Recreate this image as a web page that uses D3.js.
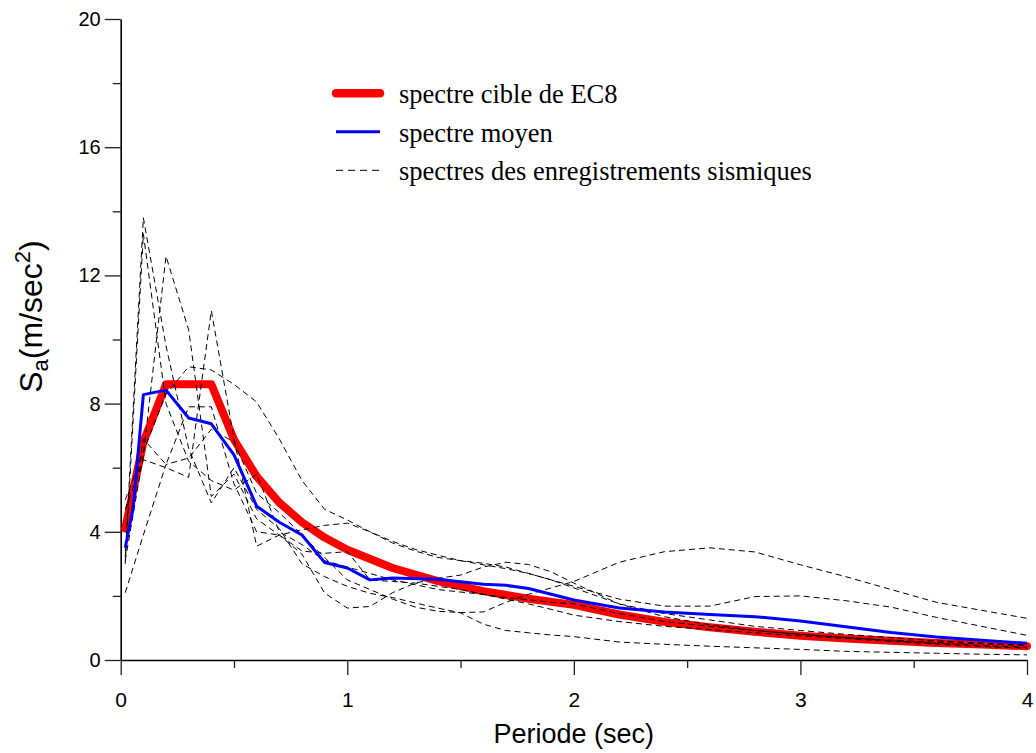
<!DOCTYPE html>
<html>
<head>
<meta charset="utf-8">
<script src="https://cdn.jsdelivr.net/npm/d3@7"></script>
<style>
  html, body { margin: 0; padding: 0; background: #fff; }
  svg { display: block; }
</style>
</head>
<body>
<svg id="chart" width="1036" height="753"></svg>
<script>
// Periods (s) at which the recorded spectra are sampled
const periods = [0.02, 0.1, 0.2, 0.3, 0.4, 0.5, 0.6, 0.7, 0.8, 0.9,
                 1.0, 1.1, 1.2, 1.3, 1.4, 1.5, 1.6, 1.7, 1.8, 1.9,
                 2.0, 2.2, 2.4, 2.6, 2.8, 3.0, 3.2, 3.4, 3.6, 3.8, 4.0];

// Response spectra of the individual seismic records (m/s²)
const record1 = [2.1, 3.9, 6.1, 6.3, 7.2, 6.8, 5.2, 4.6, 3.9, 3.2,
                 2.5, 2.2, 1.9, 1.65, 1.52, 1.48, 1.5, 1.8, 2.05, 2.25,
                 2.45, 3.05, 3.38, 3.5, 3.37, 2.97, 2.6, 2.2, 1.8, 1.55, 1.3];
const record2 = [5.0, 6.5, 8.3, 9.15, 9.05, 8.6, 8.05, 6.9, 5.6, 4.7,
                 4.37, 4.0, 3.7, 3.45, 3.27, 3.1, 2.97, 2.85, 2.7, 2.5,
                 2.3, 1.9, 1.68, 1.68, 1.98, 2.0, 1.85, 1.65, 1.33, 1.05, 0.77];
const record3 = [3.1, 6.4, 12.6, 10.3, 5.1, 5.8, 4.4, 3.9, 3.3, 2.09,
                 1.62, 1.67, 2.1, 2.4, 2.55, 2.65, 2.9, 3.05, 2.98, 2.75,
                 2.4, 1.75, 1.35, 1.1, 0.92, 0.8, 0.7, 0.6, 0.52, 0.45, 0.4];
const record4 = [4.7, 6.25, 6.0, 5.7, 10.9, 6.9, 3.55, 3.9, 4.06, 4.2,
                 4.27, 4.0, 3.65, 3.4, 3.2, 3.1, 3.02, 2.9, 2.7, 2.5,
                 2.25, 1.75, 1.45, 1.25, 1.05, 0.92, 0.8, 0.7, 0.6, 0.53, 0.47];
const record5 = [3.2, 13.8, 9.8, 6.6, 4.9, 6.0, 4.7, 4.1, 3.0, 2.6,
                 2.3, 2.08, 1.95, 1.78, 1.62, 1.47, 1.12, 0.92, 0.85, 0.78,
                 0.73, 0.56, 0.49, 0.43, 0.38, 0.33, 0.27, 0.24, 0.21, 0.18, 0.16];
const record6 = [3.0, 13.3, 8.0, 6.2, 5.6, 5.3, 5.8, 4.0, 3.6, 3.1,
                 2.9, 2.7, 2.5, 2.35, 2.2, 2.12, 2.05, 1.9, 1.75, 1.58,
                 1.4, 1.2, 1.05, 0.95, 0.85, 0.75, 0.67, 0.58, 0.5, 0.42, 0.37];
const record7 = [3.4, 6.9, 6.1, 7.9, 7.9, 5.5, 4.0, 3.9, 3.4, 3.33,
                 3.38, 2.5, 2.45, 2.4, 2.3, 2.2, 2.05, 1.95, 1.88, 1.8,
                 1.75, 1.45, 1.2, 1.05, 0.92, 0.8, 0.7, 0.62, 0.55, 0.5, 0.45];
const records = [record1, record2, record3, record4, record5, record6, record7];

// EC8 target spectrum
const targetPeriods = [0.02, 0.1, 0.2, 0.4, 0.5, 0.6, 0.7, 0.8, 0.9, 1.0,
                       1.2, 1.4, 1.6, 1.8, 2.0, 2.2, 2.4, 2.6, 2.8, 3.0,
                       3.2, 3.4, 3.6, 3.8, 4.0];
const targetSa = [4.1, 6.8, 8.6, 8.6, 6.88, 5.73, 4.91, 4.3, 3.82, 3.44,
                  2.87, 2.46, 2.15, 1.91, 1.72, 1.42, 1.19, 1.02, 0.88, 0.76,
                  0.67, 0.6, 0.53, 0.48, 0.43];

// Mean spectrum of the records
const meanPeriods = [0.02, 0.055, 0.1, 0.2, 0.3, 0.4, 0.5, 0.6, 0.7, 0.8,
                     0.9, 1.0, 1.1, 1.2, 1.4, 1.6, 1.7, 1.8, 2.0, 2.2,
                     2.4, 2.6, 2.8, 3.0, 3.2, 3.4, 3.6, 3.8, 4.0];
const meanSa = [3.5, 4.74, 8.28, 8.42, 7.55, 7.37, 6.4, 4.8, 4.3, 3.9,
                3.04, 2.87, 2.5, 2.56, 2.52, 2.36, 2.33, 2.23, 1.87, 1.62,
                1.5, 1.42, 1.35, 1.22, 1.04, 0.86, 0.72, 0.62, 0.52];

// Axis ticks and labels
const xMajorTicks = [0, 1, 2, 3, 4];
const xMinorTicks = [0.5, 1.5, 2.5, 3.5];
const yMajorTicks = [0, 4, 8, 12, 16, 20];
const yMinorTicks = [2, 6, 10, 14, 18];
const xTitle = "Periode (sec)";
const legendLabels = ["spectre cible de EC8", "spectre moyen", "spectres des enregistrements sismiques"];

const svg = d3.select("#chart");

const x = d3.scaleLinear().domain([0, 4]).range([120.7, 1027]);
const y = d3.scaleLinear().domain([0, 20]).range([660, 19]);

const axisFont = "'Liberation Sans', Arial, sans-serif";
const serifFont = "'Liberation Serif', 'Times New Roman', serif";

// Axes
const xAxisG = svg.append("g").attr("transform", `translate(0,${y(0)})`);
xAxisG.call(d3.axisBottom(x).tickValues(xMajorTicks).tickSize(15).tickSizeOuter(0)
  .tickPadding(17).tickFormat(d3.format("d")));
const xMinorG = svg.append("g").attr("transform", `translate(0,${y(0)})`);
xMinorG.call(d3.axisBottom(x).tickValues(xMinorTicks).tickSize(8).tickSizeOuter(0).tickFormat(""));
xMinorG.select(".domain").remove();

const yAxisG = svg.append("g").attr("transform", `translate(${x(0)},0)`);
yAxisG.call(d3.axisLeft(y).tickValues(yMajorTicks).tickSize(16).tickSizeOuter(0)
  .tickPadding(4).tickFormat(d3.format("d")));
const yMinorG = svg.append("g").attr("transform", `translate(${x(0)},0)`);
yMinorG.call(d3.axisLeft(y).tickValues(yMinorTicks).tickSize(8).tickSizeOuter(0).tickFormat(""));
yMinorG.select(".domain").remove();

[xAxisG, xMinorG, yAxisG, yMinorG].forEach(g => {
  g.selectAll(".domain").attr("stroke", "#000").attr("stroke-width", 1.6);
  g.selectAll(".tick line").attr("stroke", "#222").attr("stroke-width", 1.3);
});
xAxisG.selectAll(".tick text").attr("font-family", axisFont).attr("font-size", 21).attr("fill", "#000");
yAxisG.selectAll(".tick text").attr("font-family", axisFont).attr("font-size", 20).attr("fill", "#000");

// Axis titles
svg.append("text")
  .attr("x", (x(0) + x(4)) / 2).attr("y", 743)
  .attr("text-anchor", "middle")
  .attr("font-family", axisFont).attr("font-size", 27)
  .text(xTitle);

const yTitle = svg.append("text")
  .attr("transform", `translate(42,${(y(0) + y(20)) / 2 - 23}) rotate(-90)`)
  .attr("text-anchor", "middle")
  .attr("font-family", axisFont).attr("font-size", 32);
yTitle.append("tspan").text("S");
yTitle.append("tspan").attr("font-size", 22).attr("baseline-shift", "-25%").text("a");
yTitle.append("tspan").text("(m/sec");
yTitle.append("tspan").attr("font-size", 22).attr("baseline-shift", "55%").text("2");
yTitle.append("tspan").text(")");

// Spectra
const line = d3.line().x(d => x(d[0])).y(d => y(d[1]));

svg.append("path")
  .datum(d3.zip(targetPeriods, targetSa))
  .attr("d", line)
  .attr("fill", "none").attr("stroke", "#ff0000").attr("stroke-width", 8)
  .attr("stroke-linejoin", "round").attr("stroke-linecap", "round");

svg.append("g").selectAll("path")
  .data(records)
  .join("path")
  .attr("d", r => line(d3.zip(periods, r)))
  .attr("fill", "none").attr("stroke", "#000").attr("stroke-width", 1)
  .attr("stroke-dasharray", "6,4");

svg.append("path")
  .datum(d3.zip(meanPeriods, meanSa))
  .attr("d", line)
  .attr("fill", "none").attr("stroke", "#0000ff").attr("stroke-width", 3)
  .attr("stroke-linejoin", "round");

// Legend
const legendRows = [
  { label: legendLabels[0], color: "#ff0000", width: 8.5, dash: null, cap: "round" },
  { label: legendLabels[1], color: "#0000ff", width: 3, dash: null, cap: "butt" },
  { label: legendLabels[2], color: "#000", width: 1, dash: "7,5", cap: "butt" }
];
const legend = svg.append("g");
legendRows.forEach((row, i) => {
  const ly = 93.3 + i * 38.5;
  legend.append("line")
    .attr("x1", 336).attr("x2", 380).attr("y1", ly).attr("y2", ly)
    .attr("stroke", row.color).attr("stroke-width", row.width)
    .attr("stroke-linecap", row.cap)
    .attr("stroke-dasharray", row.dash);
  legend.append("text")
    .attr("x", 399).attr("y", ly + 10)
    .attr("font-family", serifFont).attr("font-size", 26.5)
    .attr("fill", "#000")
    .text(row.label);
});
</script>
</body>
</html>
